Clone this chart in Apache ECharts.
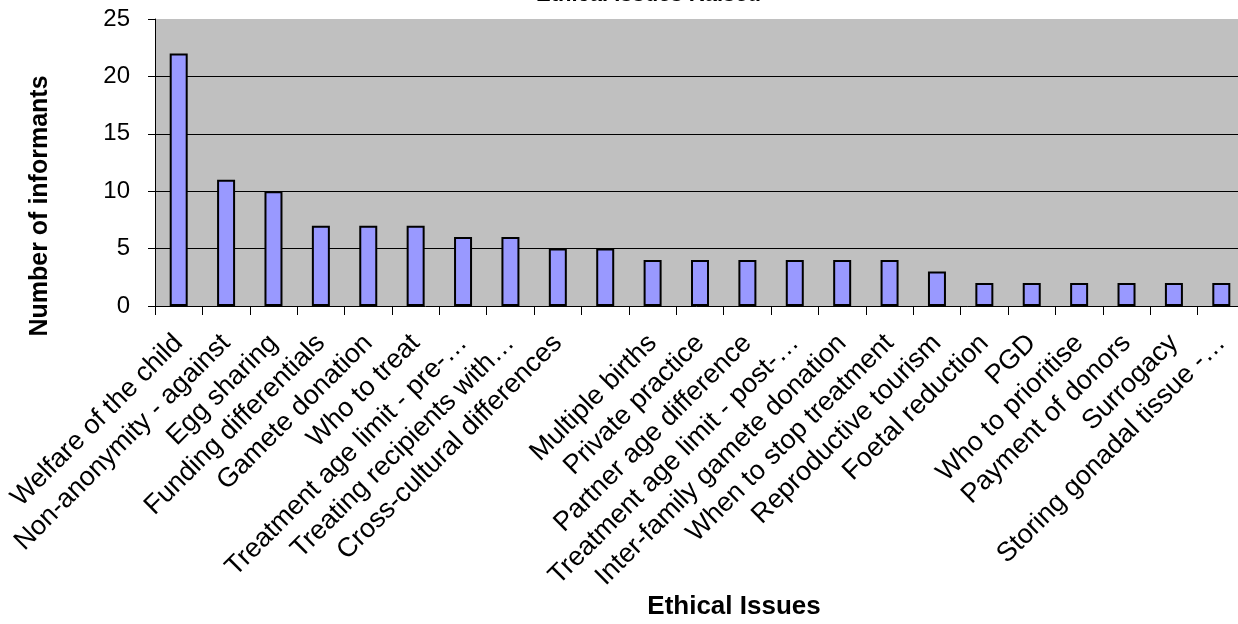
<!DOCTYPE html>
<html>
<head>
<meta charset="utf-8">
<script src="https://cdn.jsdelivr.net/npm/echarts@6/dist/echarts.min.js"></script>
<style>
  html, body { margin: 0; padding: 0; background: #ffffff; }
  #chart { width: 1238px; height: 624px; }
</style>
</head>
<body>
<div id="chart"></div>
<script>
// Ethical issues and how many informants raised each one
const categories = [
  'Welfare of the child',
  'Non-anonymity - against',
  'Egg sharing',
  'Funding differentials',
  'Gamete donation',
  'Who to treat',
  'Treatment age limit - pre-…',
  'Treating recipients with…',
  'Cross-cultural differences',
  '',
  'Multiple births',
  'Private practice',
  'Partner age difference',
  'Treatment age limit - post-…',
  'Inter-family gamete donation',
  'When to stop treatment',
  'Reproductive tourism',
  'Foetal reduction',
  'PGD',
  'Who to prioritise',
  'Payment of donors',
  'Surrogacy',
  'Storing gonadal tissue -…'
];
const informants = [22, 11, 10, 7, 7, 7, 6, 6, 5, 5, 4, 4, 4, 4, 4, 4, 3, 2, 2, 2, 2, 2, 2];
const yTicks = { min: 0, max: 25, interval: 5 };

const chart = echarts.init(document.getElementById('chart'), null, { renderer: 'canvas' });
const FONT = '"Liberation Sans", Arial, sans-serif';

chart.setOption({
  animation: false,
  backgroundColor: '#ffffff',
  textStyle: { fontFamily: FONT, color: '#000' },
  title: {
    text: 'Ethical Issues Raised',
    left: 536,
    top: -16,
    padding: 0,
    textStyle: { fontFamily: FONT, fontSize: 22, fontWeight: 'bold', color: '#000' }
  },
  graphic: [
    {
      type: 'text',
      x: 40, y: 206,
      rotation: Math.PI / 2,
      style: {
        text: 'Number of informants',
        font: 'bold 25px "Liberation Sans", Arial, sans-serif',
        fill: '#000',
        align: 'center',
        verticalAlign: 'middle'
      }
    },
    {
      type: 'text',
      x: 734, y: 607,
      style: {
        text: 'Ethical Issues',
        font: 'bold 26px "Liberation Sans", Arial, sans-serif',
        fill: '#000',
        align: 'center',
        verticalAlign: 'middle'
      }
    }
  ],
  grid: {
    left: 155,
    width: 1090,
    top: 19,
    bottom: 318,
    outerBoundsMode: 'none',
    containLabel: false,
    show: true,
    backgroundColor: '#c0c0c0',
    borderWidth: 0
  },
  xAxis: {
    type: 'category',
    data: categories,
    boundaryGap: true,
    axisLine: { show: true, lineStyle: { color: '#000', width: 1 } },
    axisTick: { show: true, length: 9, lineStyle: { color: '#000', width: 1 } },
    axisLabel: {
      interval: 0,
      rotate: 45,
      margin: 33,
      align: 'right',
      verticalAlign: 'middle',
      fontFamily: FONT,
      fontSize: 27,
      color: '#000'
    },
    splitLine: { show: false }
  },
  yAxis: {
    type: 'value',
    min: yTicks.min,
    max: yTicks.max,
    interval: yTicks.interval,
    axisLine: { show: true, lineStyle: { color: '#000', width: 1 } },
    axisTick: { show: true, length: 7, lineStyle: { color: '#000', width: 1 } },
    axisLabel: { margin: 25, fontFamily: FONT, fontSize: 24, color: '#000' },
    splitLine: { show: true, showMinLine: false, showMaxLine: false, lineStyle: { color: '#000', width: 1 } }
  },
  series: [{
    type: 'bar',
    data: informants,
    barWidth: 18,
    itemStyle: { color: '#9999ff', borderColor: '#000', borderWidth: 2 }
  }]
});
</script>
</body>
</html>
